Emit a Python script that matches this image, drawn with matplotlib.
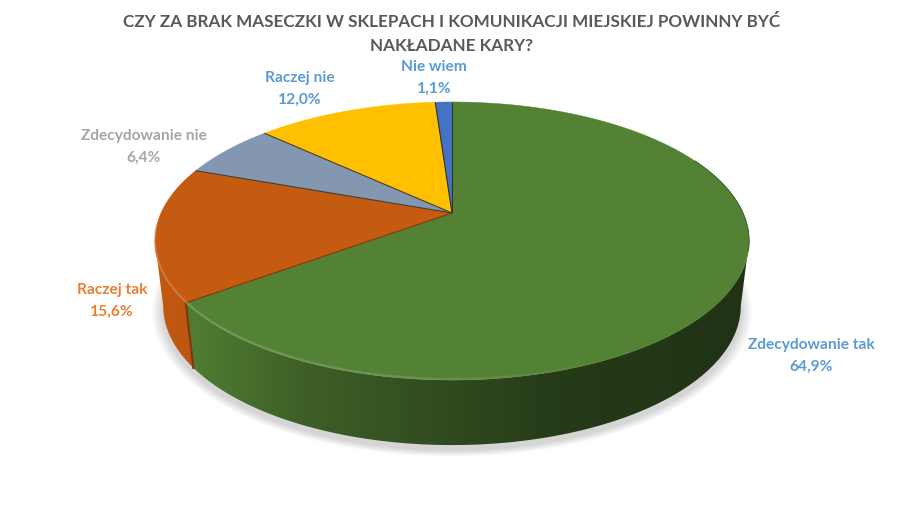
"""
"""
import numpy as np
import matplotlib as mpl
mpl.use('Agg')
import matplotlib.pyplot as plt
from matplotlib.colors import to_rgb
from matplotlib.collections import LineCollection
from matplotlib.patches import Polygon

categories = ['Zdecydowanie tak', 'Raczej tak', 'Zdecydowanie nie', 'Raczej nie', 'Nie wiem']
shares = [64.9, 15.6, 6.4, 12.0, 1.1]
shareLabels = ['64,9%', '15,6%', '6,4%', '12,0%', '1,1%']
titleLines = ['CZY ZA BRAK MASECZKI W SKLEPACH I KOMUNIKACJI MIEJSKIEJ POWINNY BYĆ', 'NAKŁADANE KARY?']

sliceColors = ['#548235', '#C55A11', '#8497B0', '#FFC000', '#4472C4']
labelColors = ['#5B9BD5', '#ED7D31', '#A5A5A5', '#5B9BD5', '#5B9BD5']
labelCenters = [(811, 356), (112, 301), (144, 147), (300, 89), (434, 78)]

# pie geometry, in pixels of the image
CX, CY = 452, 213
RX, RY = 291, 133.4
TILT = 0.2015
DEPTH = 65
BOTTOM_SCALE = 0.972

plt.rcParams['font.family'] = ['Lato', 'DejaVu Sans']


def TopPoints(angles):
	# angles clockwise from 12 o'clock, with a perspective squeeze to the back
	u, v = np.sin(angles), np.cos(angles)
	w = 1 + TILT * v
	return CX + RX * u / w, CY - RY * v / w


def BottomPoints(angles):
	x, y = TopPoints(angles)
	return CX + (x - CX) * BOTTOM_SCALE, y + DEPTH


def ShadeImage(baseColor):
	# the wall darkens from the left to the right of the pie
	x = np.arange(140, 761)
	factor = np.interp(x, [150, 195, 300, 450, 560, 750], [1.0, 0.95, 0.74, 0.57, 0.45, 0.39])
	return (factor[:, None] * np.array(to_rgb(baseColor)))[None, :, :]


figure = plt.figure(figsize=(9.15, 5.14), dpi=100)
ax = plt.axes([0, 0, 1, 1], frameon=False)
plt.axis('off')

edges = np.cumsum([0] + shares) / sum(shares) * 2 * np.pi
circle = np.linspace(0, 2 * np.pi, 361)

# soft shadow under the pie
shadowX, shadowY = BottomPoints(circle)
for i in range(14):
	grow = 1 + (14 - i) * 0.0028
	ax.fill(CX + (shadowX - CX) * grow, 278 + 5 + (shadowY - 278) * grow, color='black',
		alpha=0.011, lw=0, zorder=1)

# side walls: one gradient image per slice, clipped to the visible wall outline
silhouette = np.arccos(-TILT)
wallRanges = [(silhouette, edges[1]), (edges[1], 2 * np.pi - silhouette)]
for (start, stop), color in zip(wallRanges, sliceColors):
	steps = np.linspace(start, stop, 200)
	tx, ty = TopPoints(steps)
	bx, by = BottomPoints(steps)
	wall = Polygon(np.column_stack([np.r_[tx, bx[::-1]], np.r_[ty, by[::-1]]]),
		transform=ax.transData, facecolor='none', edgecolor='none')
	ax.add_patch(wall)
	image = ax.imshow(ShadeImage(color), extent=(140, 760, 460, 90), aspect='auto',
		interpolation='bilinear', zorder=2)
	image.set_clip_path(wall)

ax.set_xlim(0, 915)
ax.set_ylim(514, 0)

# dark seam where the green and orange walls meet
seam = np.array([edges[1]])
seamX, seamY = TopPoints(seam)
seamBX, seamBY = BottomPoints(seam)
ax.plot([seamX[0], seamBX[0]], [seamY[0], seamBY[0]], color='#7F3A0A', lw=1.6, zorder=3)

# top faces
for start, stop, color in zip(edges[:-1], edges[1:], sliceColors):
	steps = np.linspace(start, stop, max(3, int((stop - start) * 120)))
	x, y = TopPoints(steps)
	ax.fill(np.r_[CX, x], np.r_[CY, y], facecolor=color, edgecolor=color, lw=0.3, zorder=4)

# thin dark lines between the slices
lineColors = ['#7F3A0A', '#4A3A28', '#4A3A28', '#3A3320', '#2A3A20']
for edge, color in zip(edges[1:], lineColors):
	x, y = TopPoints(np.array([edge]))
	ax.plot([CX, x[0]], [CY, y[0]], color=color, lw=0.8, solid_capstyle='butt', zorder=5)

# lit bevel along the front rim, fading towards the right
for start, stop, color in zip(edges[:2], edges[1:3], sliceColors):
	steps = np.linspace(start, stop, 200)
	x, y = TopPoints(steps)
	points = np.column_stack([x, y - 1])
	segments = np.stack([points[:-1], points[1:]], axis=1)
	alpha = np.interp(x[:-1], [150, 190, 450, 600], [0.4, 0.38, 0.28, 0.0])
	# only the front part of the rim catches the light
	alpha = np.where(y[:-1] < 225, 0.0, alpha)
	light = np.array(to_rgb(color)) * 0.55 + 0.45
	rgba = np.column_stack([np.tile(light, (len(alpha), 1)), alpha])
	ax.add_collection(LineCollection(segments, colors=rgba, linewidths=1.6, zorder=6))

# darker right rim
steps = np.linspace(np.radians(65), np.radians(105), 60)
x, y = TopPoints(steps)
ax.plot(x, y, color='#3F6028', lw=0.7, zorder=6)

# labels
for name, value, color, center in zip(categories, shareLabels, labelColors, labelCenters):
	ax.text(center[0], center[1] - 11, name, color=color, fontsize=11.2, fontweight='bold',
		ha='center', va='center', zorder=7)
	ax.text(center[0], center[1] + 11, value, color=color, fontsize=11.2, fontweight='bold',
		ha='center', va='center', zorder=7)

ax.text(452, 22, titleLines[0], color='#595959', fontsize=12.3, fontweight='bold', ha='center', va='center')
ax.text(452, 46, titleLines[1], color='#595959', fontsize=12.3, fontweight='bold', ha='center', va='center')

figure.savefig('out.png', dpi=100)
plt.close(figure)
